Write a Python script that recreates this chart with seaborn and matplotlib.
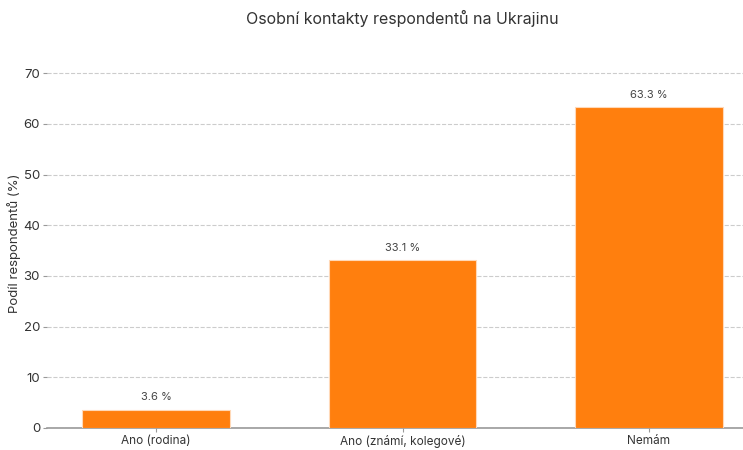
import numpy as np
import pandas as pd
import seaborn as sns
import matplotlib
matplotlib.use("Agg")
import matplotlib.pyplot as plt

# Data
categories = ["Ano (rodina)", "Ano (známí, kolegové)", "Nemám"]
shares = [3.6, 33.1, 63.3]
y_ticks = [0, 10, 20, 30, 40, 50, 60, 70]

df = pd.DataFrame({"kategorie": categories, "podil": shares})

sns.set_theme(style="white")
plt.rcParams["font.family"] = ["Inter", "DejaVu Sans"]

fig = plt.figure(figsize=(7.43, 4.5), dpi=100)
# axes placed in pixels; right edge runs past the figure like the original crop
ax = fig.add_axes([47 / 743, 22 / 450, 711 / 743, 370 / 450])

sns.barplot(data=df, x="kategorie", y="podil", color="#ff7f0e", saturation=1,
            width=0.6, edgecolor="#ffd9b8", linewidth=0.8, ax=ax, zorder=3)

for i, v in enumerate(shares):
    ax.text(i, v + 1.5, f"{v:.1f} %", ha="center", va="bottom",
            fontsize=8, color="#444444")

ax.set_xlim(-0.442, 2.442)
ax.set_ylim(0, 73)
ax.set_yticks(y_ticks)
ax.yaxis.grid(True, linestyle="--", color="#cccccc", linewidth=0.8, zorder=0)
ax.set_axisbelow(True)

for side in ["top", "right", "left"]:
    ax.spines[side].set_visible(False)
ax.spines["bottom"].set_color("#999999")
ax.spines["bottom"].set_linewidth(1.2)

ax.tick_params(axis="y", length=3, width=0.8, color="#999999", labelsize=9.5,
               labelcolor="#333333", left=True, pad=2)
ax.tick_params(axis="x", length=3, width=0.8, color="#999999", labelsize=8.5,
               labelcolor="#333333", bottom=True, pad=2)

ax.set_xlabel("")
ax.set_ylabel("Podíl respondentů (%)", fontsize=9.5, color="#333333", labelpad=2)

fig.text(402 / 743, 1 - 18 / 450, "Osobní kontakty respondentů na Ukrajinu",
         ha="center", va="center", fontsize=11.5, color="#333333")

fig.savefig("out.png", dpi=100)
plt.close(fig)
